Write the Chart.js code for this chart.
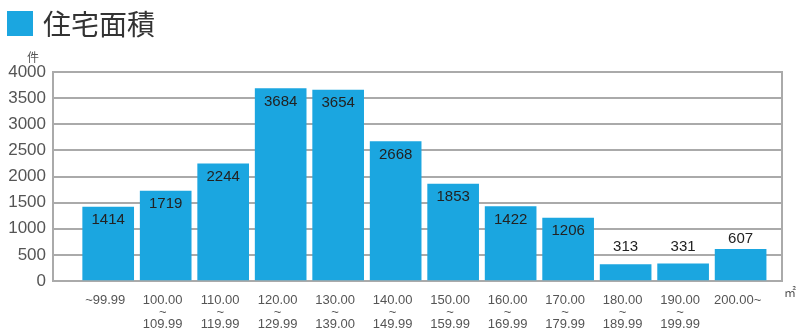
<!doctype html>
<html lang="ja">
<head>
<meta charset="utf-8">
<script src="https://cdn.jsdelivr.net/npm/chart.js@4.4.0/dist/chart.umd.min.js"></script>
<style>
  body { margin: 0; background: #fff; }
  #wrap { position: relative; width: 800px; height: 336px; }
  #title { position: absolute; left: 7px; top: 3px; font: 28px "Noto Sans CJK JP", sans-serif; color: #333; display: flex; align-items: center; }
  #title span.box { display: inline-block; width: 26px; height: 25px; background: #1ba6e0; margin-right: 10px; }
</style>
</head>
<body>
<div id="wrap">
  <canvas id="chart" width="800" height="336"></canvas>
  <div id="title"><span class="box"></span>住宅面積</div>
</div>
<script>
// area ranges (m2)
const categories = [
  ["~99.99"],
  ["100.00", "~", "109.99"],
  ["110.00", "~", "119.99"],
  ["120.00", "~", "129.99"],
  ["130.00", "~", "139.00"],
  ["140.00", "~", "149.99"],
  ["150.00", "~", "159.99"],
  ["160.00", "~", "169.99"],
  ["170.00", "~", "179.99"],
  ["180.00", "~", "189.99"],
  ["190.00", "~", "199.99"],
  ["200.00~"]
];
// number of houses
const counts = [1414, 1719, 2244, 3684, 3654, 2668, 1853, 1422, 1206, 313, 331, 607];
const yTicks = [0, 500, 1000, 1500, 2000, 2500, 3000, 3500, 4000];

const barColor = "#1ba6e0";
const gridColor = "#aaaaaa";

// draws the plot box, unit marks and the value labels
const extras = {
  id: "extras",
  beforeDatasetsDraw(chart) {
    const { ctx, chartArea: a } = chart;
    ctx.save();
    ctx.strokeStyle = gridColor;
    ctx.lineWidth = 2;
    ctx.strokeRect(a.left, a.top, a.right - a.left, a.bottom - a.top);
    ctx.restore();
  },
  afterDatasetsDraw(chart) {
    const { ctx } = chart;
    const y = chart.scales.y;
    const meta = chart.getDatasetMeta(0);
    ctx.save();
    ctx.font = "15px 'Liberation Sans', Arial, sans-serif";
    ctx.fillStyle = "#222";
    ctx.textAlign = "center";
    ctx.textBaseline = "middle";
    meta.data.forEach((bar, i) => {
      const v = counts[i];
      let ty;
      if (v >= 1000) ty = bar.y + 13;
      else ty = Math.min(bar.y - 10, y.getPixelForValue(650));
      ctx.fillText(String(v), bar.x, ty);
    });
    ctx.fillStyle = "#555";
    ctx.font = "12px 'Noto Sans CJK JP', sans-serif";
    ctx.fillText("件", 33, 57);
    ctx.fillText("㎡", 790, 292);
    ctx.restore();
  }
};

new Chart(document.getElementById("chart"), {
  type: "bar",
  data: {
    datasets: [{
      data: counts.map((v, i) => ({ x: i, y: v })),
      backgroundColor: barColor,
      borderWidth: 0,
      barThickness: 51
    }]
  },
  plugins: [extras],
  options: {
    responsive: false,
    animation: false,
    layout: { padding: { top: 72, right: 18, left: 0, bottom: 0 } },
    plugins: { legend: { display: false }, tooltip: { enabled: false } },
    scales: {
      x: {
        type: "linear",
        offset: false,
        min: -0.96,
        max: 11.72,
        grid: { display: false },
        border: { display: false },
        afterFit(scale) { scale.height = 55; },
        afterBuildTicks(scale) { scale.ticks = categories.map((_, i) => ({ value: i })); },
        ticks: {
          autoSkip: false,
          maxRotation: 0,
          padding: 5,
          labelOffset: -3,
          color: "#555",
          font: { family: "'Liberation Sans', Arial, sans-serif", size: 13, lineHeight: "12px" },
          callback: (v) => categories[v]
        }
      },
      y: {
        min: 0,
        max: 4000,
        afterFit(scale) { scale.width = 53; },
        afterBuildTicks(scale) { scale.ticks = yTicks.map(v => ({ value: v })); },
        grid: { color: gridColor, lineWidth: 2, drawTicks: false },
        border: { display: false },
        ticks: {
          padding: 7,
          color: "#555",
          font: { family: "'Liberation Sans', Arial, sans-serif", size: 17 },
          callback: (v) => String(v)
        }
      }
    }
  }
});
</script>
</body>
</html>
